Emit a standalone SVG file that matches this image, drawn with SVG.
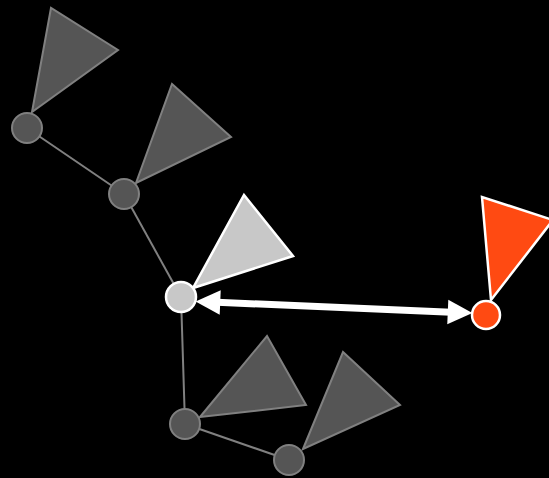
<svg xmlns="http://www.w3.org/2000/svg" width="549" height="478" viewBox="0 0 549 478">
<defs>
<style>
.edge{stroke:#808080;stroke-width:2;fill:none}
.dark{fill:#555555;stroke:#808080;stroke-width:2;stroke-linejoin:miter}
.light{fill:#c8c8c8;stroke:#ffffff;stroke-width:2.5}
.red{fill:#ff4a12;stroke:#ffffff;stroke-width:2.5}
.arrow{stroke:#ffffff;stroke-width:7;fill:none}
</style>
<marker id="head" markerUnits="userSpaceOnUse" markerWidth="30" markerHeight="30" viewBox="-4 -12 28 24" refX="0" refY="0" orient="auto-start-reverse">
<path d="M-3,-11.5 L20,0 L-3,11.5 z" fill="#ffffff"/>
</marker>
</defs>
<rect width="549" height="478" fill="#000000"/>
<g id="connectors">
<line class="edge" x1="27" y1="128" x2="124" y2="194"/>
<line class="edge" x1="124" y1="194" x2="181" y2="297"/>
<line class="edge" x1="181" y1="297" x2="185" y2="424"/>
<line class="edge" x1="185" y1="424" x2="289" y2="460"/>
<line class="arrow" x1="217" y1="302.3" x2="451" y2="312.2" marker-start="url(#head)" marker-end="url(#head)"/>
</g>
<g id="node1">
<polygon class="dark" points="32,112 51,8 118,50"/>
<circle class="dark" cx="27" cy="128" r="15"/>
</g>
<g id="node2">
<polygon class="dark" points="136,183 172,84 231,137"/>
<circle class="dark" cx="124" cy="194" r="15"/>
</g>
<g id="node3">
<polygon class="light" points="193,288 244,195 293,256"/>
<circle class="light" cx="181" cy="297" r="15"/>
</g>
<g id="node4">
<polygon class="dark" points="200,417 267,336 306,405"/>
<circle class="dark" cx="185" cy="424" r="15"/>
</g>
<g id="node5">
<polygon class="dark" points="303,449 343,352 400,405"/>
<circle class="dark" cx="289" cy="460" r="15"/>
</g>
<g id="node6">
<polygon class="red" points="491,300 482,197 553,220"/>
<circle class="red" cx="486" cy="315" r="14"/>
</g>
</svg>
